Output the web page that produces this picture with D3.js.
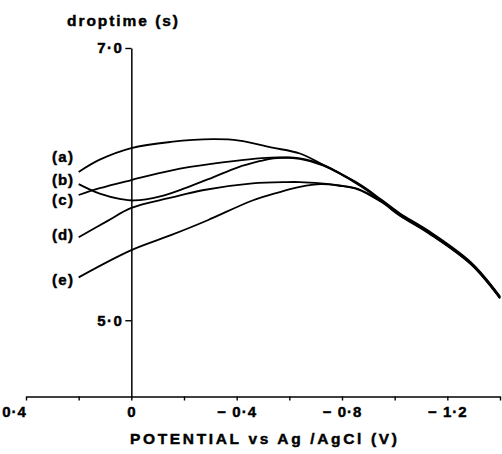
<!DOCTYPE html>
<html>
<head>
<meta charset="utf-8">
<script src="https://cdn.jsdelivr.net/npm/d3@7"></script>
<style>
  body { margin: 0; background: #fff; }
  svg { display: block; font-family: "Liberation Sans", Arial, sans-serif; font-weight: bold; }
  svg text { stroke: #000; stroke-width: 0.45px; }
</style>
</head>
<body>
<div id="chart"></div>
<script>
const width = 502;
const height = 454;

// potential (V) vs droptime (s)
const curveA = [[0.2, 6.09], [0.12, 6.18], [0, 6.265], [-0.15, 6.31], [-0.31, 6.33], [-0.41, 6.32],
  [-0.53, 6.27], [-0.64, 6.225], [-0.73, 6.14], [-0.87, 5.995], [-0.95, 5.885], [-1.02, 5.785],
  [-1.13, 5.655], [-1.29, 5.425], [-1.40, 5.175]];
const curveB = [[0.2, 6.0], [0.12, 5.93], [0.04, 5.89], [-0.01, 5.88], [-0.11, 5.91], [-0.21, 5.975],
  [-0.31, 6.05], [-0.40, 6.12], [-0.49, 6.17], [-0.54, 6.19], [-0.64, 6.19], [-0.73, 6.14],
  [-0.87, 5.99], [-0.95, 5.88], [-1.02, 5.78], [-1.13, 5.65], [-1.29, 5.42], [-1.40, 5.17]];
const curveC = [[0.2, 5.92], [0.12, 5.97], [0, 6.03], [-0.15, 6.10], [-0.31, 6.15], [-0.53, 6.195],
  [-0.64, 6.185], [-0.73, 6.135], [-0.87, 5.987], [-0.95, 5.877], [-1.02, 5.777], [-1.13, 5.647],
  [-1.29, 5.417], [-1.40, 5.167]];
const curveD = [[0.2, 5.61], [0.09, 5.73], [0, 5.825], [-0.15, 5.90], [-0.27, 5.955], [-0.46, 6.005],
  [-0.59, 6.015], [-0.64, 6.015], [-0.72, 6.005], [-0.79, 5.99], [-0.86, 5.965], [-0.95, 5.872],
  [-1.02, 5.772], [-1.13, 5.642], [-1.29, 5.413], [-1.40, 5.165]];
const curveE = [[0.2, 5.315], [0, 5.515], [-0.15, 5.625], [-0.29, 5.735], [-0.46, 5.88], [-0.56, 5.94],
  [-0.64, 5.98], [-0.72, 6.0], [-0.79, 5.988], [-0.86, 5.962], [-0.95, 5.868], [-1.02, 5.768],
  [-1.13, 5.638], [-1.29, 5.41], [-1.40, 5.16]];

const curveNames = ["(a)", "(b)", "(c)", "(d)", "(e)"];
const curves = [curveA, curveB, curveC, curveD, curveE];

const xTicks = [0.4, 0.2, 0, -0.2, -0.4, -0.6, -0.8, -1.0, -1.2, -1.4];
const xLabelled = [0.4, 0, -0.4, -0.8, -1.2];
const xLabelText = ["0·4", "0", "− 0·4", "− 0·8", "− 1·2"];
const yTicks = [5, 7];
const yLabelText = ["5·0", "7·0"];

const svg = d3.select("#chart")
  .append("svg")
  .attr("width", width)
  .attr("height", height);

const x = d3.scaleLinear().domain([0.4, -1.4]).range([26, 500]);
const y = d3.scaleLinear().domain([4.44, 7]).range([396.5, 48]);

// x axis, ticks hanging below the line
const xAxis = svg.append("g")
  .attr("transform", `translate(0,${y(4.44)})`)
  .call(d3.axisBottom(x)
    .tickValues(xTicks)
    .tickSize(4)
    .tickSizeOuter(0)
    .tickFormat(d => {
      const i = xLabelled.indexOf(d);
      return i < 0 ? "" : xLabelText[i];
    }));
xAxis.attr("font-family", null);
xAxis.select(".domain").attr("stroke-width", 1.5);
xAxis.selectAll(".tick line").attr("stroke-width", 1.4);
xAxis.selectAll(".tick text")
  .attr("y", 10)
  .attr("font-size", 15)
  .attr("letter-spacing", 1)
  .attr("fill", "#000");
xAxis.selectAll(".tick text").filter(d => d === 0.4).attr("x", -12);

// y axis sits on V = 0
const yAxis = svg.append("g")
  .attr("transform", `translate(${x(0)},0)`)
  .call(d3.axisLeft(y)
    .tickValues(yTicks)
    .tickSize(6)
    .tickSizeOuter(0)
    .tickFormat((d, i) => yLabelText[i]));
yAxis.attr("font-family", null);
yAxis.select(".domain").attr("stroke-width", 1.5);
yAxis.selectAll(".tick line").attr("stroke-width", 1.4);
yAxis.selectAll(".tick text")
  .attr("x", -8)
  .attr("font-size", 15)
  .attr("letter-spacing", 1.5)
  .attr("fill", "#000");

// axis titles
svg.append("text")
  .attr("x", 67).attr("y", 26)
  .attr("font-size", 15.5)
  .attr("textLength", 111)
  .attr("lengthAdjust", "spacing")
  .text("droptime (s)");

svg.append("text")
  .attr("x", 130).attr("y", 444)
  .attr("font-size", 15.5)
  .attr("textLength", 267)
  .attr("lengthAdjust", "spacing")
  .text("POTENTIAL vs Ag /AgCl (V)");

// curves
const line = d3.line()
  .x(d => x(d[0]))
  .y(d => y(d[1]))
  .curve(d3.curveCatmullRom.alpha(0.5));

svg.append("g")
  .selectAll("path")
  .data(curves)
  .join("path")
  .attr("d", line)
  .attr("fill", "none")
  .attr("stroke", "#000")
  .attr("stroke-width", 1.8);

// curve labels at the left ends
const labelAt = [6.2, 6.03, 5.882, 5.625, 5.294];
svg.append("g")
  .selectAll("text")
  .data(curveNames)
  .join("text")
  .attr("x", 52)
  .attr("y", (d, i) => y(labelAt[i]))
  .attr("dy", "0.35em")
  .attr("font-size", 15)
  .attr("textLength", 21)
  .attr("lengthAdjust", "spacing")
  .text(d => d);
</script>
</body>
</html>
